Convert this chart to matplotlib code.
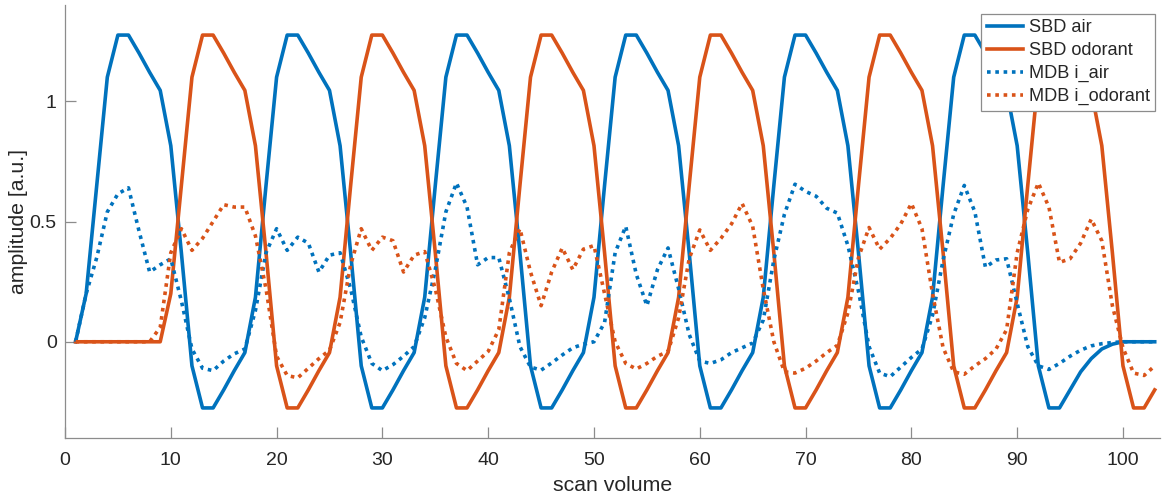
import matplotlib
matplotlib.use("Agg")
import matplotlib.pyplot as plt

plt.rcParams['font.family'] = ['Liberation Sans', 'DejaVu Sans']

# scan volumes 1..103
scan = list(range(1, 104))

sbd_air = [
    0.0, 0.2, 0.65, 1.1, 1.275, 1.275, 1.2, 1.12, 1.045, 0.815, 0.37, -0.1, -0.275, -0.275, -0.2, -0.12,
    -0.045, 0.185, 0.65, 1.1, 1.275, 1.275, 1.2, 1.12, 1.045, 0.815, 0.37, -0.1, -0.275, -0.275, -0.2, -0.12,
    -0.045, 0.185, 0.65, 1.1, 1.275, 1.275, 1.2, 1.12, 1.045, 0.815, 0.37, -0.1, -0.275, -0.275, -0.2, -0.12,
    -0.045, 0.185, 0.65, 1.1, 1.275, 1.275, 1.2, 1.12, 1.045, 0.815, 0.37, -0.1, -0.275, -0.275, -0.2, -0.12,
    -0.045, 0.185, 0.65, 1.1, 1.275, 1.275, 1.2, 1.12, 1.045, 0.815, 0.37, -0.1, -0.275, -0.275, -0.2, -0.12,
    -0.045, 0.185, 0.65, 1.1, 1.275, 1.275, 1.2, 1.12, 1.045, 0.815, 0.37, -0.1, -0.275, -0.275,
    -0.2, -0.125, -0.07, -0.03, -0.01, 0.0, 0.0, 0.0, 0.0,
]

sbd_odor = [
    0.0, 0.0, 0.0, 0.0, 0.0, 0.0, 0.0, 0.0, 0.0,
    0.2, 0.65, 1.1, 1.275, 1.275, 1.2, 1.12, 1.045, 0.815, 0.37, -0.1, -0.275, -0.275, -0.2, -0.12,
    -0.045, 0.185, 0.65, 1.1, 1.275, 1.275, 1.2, 1.12, 1.045, 0.815, 0.37, -0.1, -0.275, -0.275, -0.2, -0.12,
    -0.045, 0.185, 0.65, 1.1, 1.275, 1.275, 1.2, 1.12, 1.045, 0.815, 0.37, -0.1, -0.275, -0.275, -0.2, -0.12,
    -0.045, 0.185, 0.65, 1.1, 1.275, 1.275, 1.2, 1.12, 1.045, 0.815, 0.37, -0.1, -0.275, -0.275, -0.2, -0.12,
    -0.045, 0.185, 0.65, 1.1, 1.275, 1.275, 1.2, 1.12, 1.045, 0.815, 0.37, -0.1, -0.275, -0.275, -0.2, -0.12,
    -0.045, 0.185, 0.65, 1.1, 1.275, 1.275, 1.2, 1.12, 1.045, 0.815, 0.37, -0.1, -0.275, -0.275, -0.2,
]

mdb_air = [
    0.0, 0.2, 0.35, 0.54, 0.615, 0.64, 0.46, 0.29, 0.32, 0.345,
    0.17, -0.03, -0.11, -0.12, -0.08, -0.05, -0.03, 0.13, 0.37, 0.47,
    0.38, 0.435, 0.41, 0.29, 0.36, 0.37, 0.22, 0.02, -0.09, -0.12,
    -0.095, -0.06, -0.02, 0.1, 0.3, 0.54, 0.66, 0.56, 0.32, 0.35,
    0.35, 0.18, -0.02, -0.105, -0.118, -0.088, -0.055, -0.025, -0.01, 0.0,
    0.08, 0.37, 0.48, 0.28, 0.15, 0.3, 0.39, 0.22, 0.03, -0.08,
    -0.09, -0.075, -0.045, -0.025, -0.005, 0.09, 0.34, 0.53, 0.655, 0.625,
    0.605, 0.555, 0.535, 0.4, 0.21, -0.02, -0.13, -0.145, -0.105, -0.065,
    -0.03, 0.11, 0.34, 0.53, 0.65, 0.54, 0.31, 0.34, 0.345, 0.16,
    -0.02, -0.1, -0.115, -0.09, -0.06, -0.035, -0.017, -0.008, -0.003, 0.0,
    0.0, 0.0, 0.0,
]

mdb_odor = [
    0.0, 0.0, 0.0, 0.0, 0.0, 0.0, 0.0, 0.0, 0.06, 0.37,
    0.47, 0.38, 0.43, 0.5, 0.57, 0.56, 0.56, 0.44, 0.22, -0.06,
    -0.14, -0.15, -0.11, -0.07, -0.035, 0.08, 0.32, 0.47, 0.38, 0.435,
    0.42, 0.29, 0.36, 0.375, 0.22, 0.02, -0.09, -0.12, -0.08, -0.04,
    0.05, 0.37, 0.47, 0.29, 0.15, 0.29, 0.39, 0.3, 0.385, 0.4,
    0.2, 0.0, -0.09, -0.113, -0.09, -0.06, -0.04, 0.1, 0.345, 0.465,
    0.38, 0.43, 0.49, 0.575, 0.48, 0.22, 0.0, -0.125, -0.13, -0.11,
    -0.08, -0.045, -0.015, 0.12, 0.35, 0.475, 0.385, 0.43, 0.49, 0.575,
    0.47, 0.2, -0.025, -0.125, -0.135, -0.1, -0.07, -0.03, 0.05, 0.37,
    0.55, 0.66, 0.56, 0.33, 0.345, 0.41, 0.51, 0.42, 0.15, -0.025,
    -0.13, -0.14, -0.1,
]

blue = '#0072BD'
orange = '#D95319'

fig = plt.figure(figsize=(11.7, 4.99), dpi=100)
ax = fig.add_axes([65/1170, 61/499, 1095/1170, 433/499])

ax.plot(scan, sbd_air, color=blue, lw=2.6, label='SBD air')
ax.plot(scan, sbd_odor, color=orange, lw=2.6, label='SBD odorant')
ax.plot(scan, mdb_air, color=blue, lw=2.6, ls=(0, (1, 1.3)), label='MDB i_air')
ax.plot(scan, mdb_odor, color=orange, lw=2.6, ls=(0, (1, 1.3)), label='MDB i_odorant')

ax.set_xlim(0, 103.5)
ax.set_ylim(-0.4, 1.4)
ax.set_xticks(range(0, 101, 10))
ax.set_yticks([0, 0.5, 1])
ax.set_yticklabels(['0', '0.5', '1'])

for s in ['top', 'right']:
    ax.spines[s].set_visible(False)
for s in ['left', 'bottom']:
    ax.spines[s].set_color('#8c8c8c')
    ax.spines[s].set_linewidth(0.9)
ax.tick_params(direction='in', length=8, width=0.9, color='#8c8c8c',
               labelsize=14, labelcolor='#262626')
ax.tick_params(axis='x', pad=10)
ax.tick_params(axis='y', pad=6)

ax.set_xlabel('scan volume', fontsize=15.3, color='#262626', labelpad=5)
ax.set_ylabel('amplitude [a.u.]', fontsize=15.3, color='#262626', labelpad=1)

leg = ax.legend(loc='upper right', bbox_to_anchor=(1155/1170, 1 - 14/499),
                bbox_transform=fig.transFigure, borderaxespad=0,
                fontsize=13.1, handlelength=2.0, handletextpad=0.3,
                labelspacing=0.32, borderpad=0.3, fancybox=False,
                framealpha=1, edgecolor='#8c8c8c')
leg.get_frame().set_linewidth(0.9)
for t in leg.get_texts():
    t.set_color('#262626')

fig.savefig('out.png', dpi=100)
